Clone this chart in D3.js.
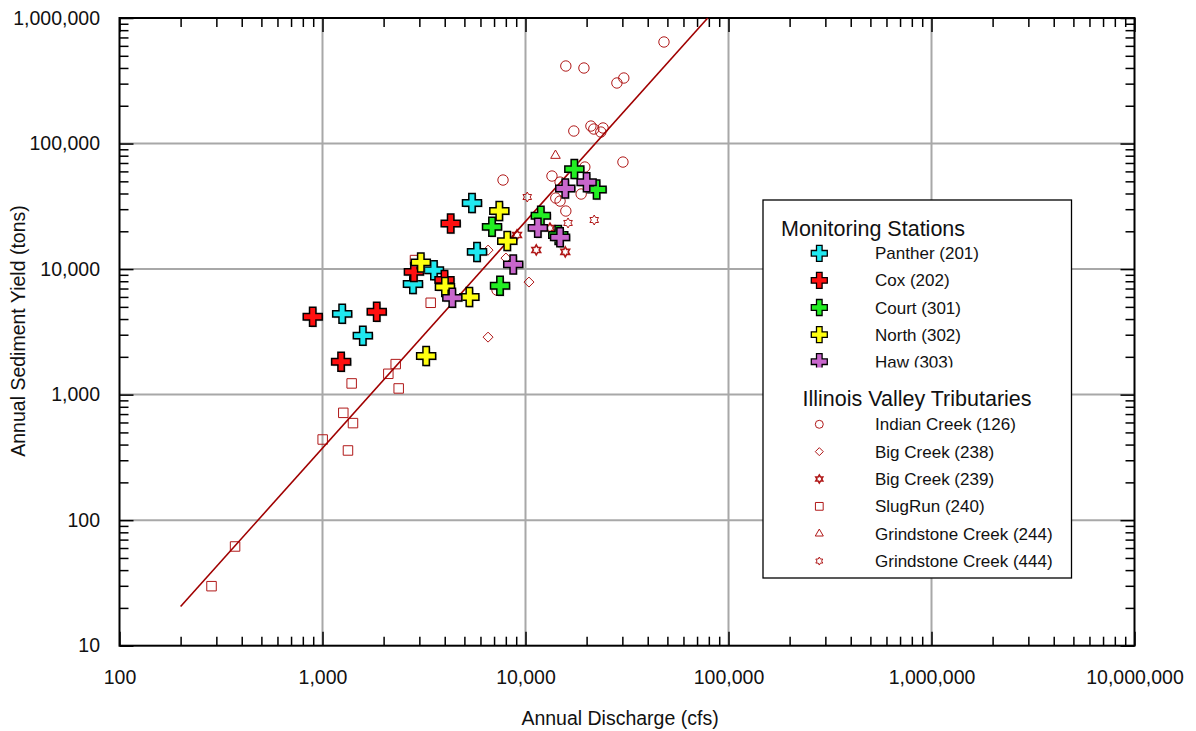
<!DOCTYPE html>
<html>
<head>
<meta charset="utf-8">
<script src="https://cdn.jsdelivr.net/npm/d3@7"></script>
<style>
  body { margin: 0; background: #fff; }
  svg { font-family: "Liberation Sans", Arial, sans-serif; }
</style>
</head>
<body>
<svg id="chart" width="1196" height="731"></svg>
<script>
// monitoring stations: discharge (cfs) and sediment yield (tons)
var pantherQ = [1250, 1580, 2790, 3540, 5450, 5770];
var pantherS = [4400, 2950, 7600, 9800, 33600, 13700];
var coxQ = [895, 1850, 1235, 2820, 4280, 3990];
var coxS = [4170, 4570, 1825, 9500, 23100, 8200];
var courtQ = [17400, 22400, 11900, 6840, 7490, 14500];
var courtS = [62600, 43100, 26600, 21700, 7360, 18700];
var northQ = [3050, 4010, 3240, 5290, 7430, 8130];
var northS = [11300, 7200, 2030, 6000, 29000, 16700];
var hawQ = [4360, 8700, 15700, 20000, 11500, 14800];
var hawS = [5900, 10900, 43900, 49100, 21300, 17900];

// Illinois valley tributaries
var indianQ = [48100, 15800, 19400, 28200, 30500, 17300, 21000, 21700, 24100, 23500,
               30200, 19600, 13500, 14800, 7750, 18800, 14100, 14800, 15800, 7240];
var indianS = [644000, 414600, 399600, 303600, 332600, 125800, 137800, 130500, 133000, 123500,
               71200, 65000, 55100, 49300, 51200, 39600, 36800, 34800, 29000, 6800];
var big238Q = [6540, 8010, 10400, 6540];
var big238S = [14160, 12240, 7880, 2870];
var big239Q = [9080, 13200, 11300, 15700];
var big239S = [18700, 21200, 14200, 13700];
var slugQ = [284, 371, 1002, 1266, 1413, 1335, 1392, 2110, 2294, 2373, 3412, 2855];
var slugS = [29.8, 61.7, 439, 716, 593, 359, 1228, 1465, 1750, 1120, 5390, 11800];
var grind244Q = [14050];
var grind244S = [80200];
var grind444Q = [10200, 16200, 21800];
var grind444S = [37500, 23300, 24600];

// regression line end points
var fitQ = [200, 79000];
var fitS = [20.5, 1000000];

var xTicks = [100, 1000, 10000, 100000, 1000000, 10000000];
var yTicks = [10, 100, 1000, 10000, 100000, 1000000];

var stations = [
    { name: "Panther (201)", color: "#1fe8f0", q: pantherQ, s: pantherS },
    { name: "Cox (202)", color: "#ff1010", q: coxQ, s: coxS },
    { name: "Court (301)", color: "#22ee22", q: courtQ, s: courtS },
    { name: "North (302)", color: "#ffff10", q: northQ, s: northS },
    { name: "Haw (303)", color: "#c866cc", q: hawQ, s: hawS }
];

var markColor = "#b01818";

var svg = d3.select("#chart");
var pLeft = 119.5, pRight = 1134.5, pTop = 18, pBottom = 645.7;

var xScale = d3.scaleLog().domain([100, 1e7]).range([pLeft, pRight]);
var yScale = d3.scaleLog().domain([10, 1e6]).range([pBottom, pTop]);

// grid
var grid = svg.append("g");
grid.selectAll(".gx").data(xTicks.slice(1, -1)).enter().append("line")
    .attr("x1", function(d) { return xScale(d); }).attr("x2", function(d) { return xScale(d); })
    .attr("y1", pTop).attr("y2", pBottom)
    .style("stroke", "#a8a8a8").style("stroke-width", 2);
grid.selectAll(".gy").data(yTicks.slice(1, -1)).enter().append("line")
    .attr("y1", function(d) { return yScale(d); }).attr("y2", function(d) { return yScale(d); })
    .attr("x1", pLeft).attr("x2", pRight)
    .style("stroke", "#a8a8a8").style("stroke-width", 2);

// minor tick values (2..9 of every decade)
function minors(lo, hi) {
    var out = [];
    for (var p = lo; p < hi; p *= 10) {
        for (var k = 2; k <= 9; k++) out.push(p * k);
    }
    return out;
}
var xMinor = minors(100, 1e7);
var yMinor = minors(10, 1e6);

function styleAxis(g) {
    g.select(".domain").remove();
    g.selectAll("line").style("stroke", "#000").style("stroke-width", 1.5);
    g.selectAll("text").style("font-size", "19.5px").style("fill", "#111").style("font-family", "Liberation Sans, Arial, sans-serif");
}

var fmt = d3.format(",");

svg.append("g").attr("transform", "translate(0," + pBottom + ")")
    .call(d3.axisBottom(xScale).tickValues(xMinor).tickSize(-9).tickFormat(""))
    .call(styleAxis);
svg.append("g").attr("transform", "translate(0," + pBottom + ")")
    .call(d3.axisBottom(xScale).tickValues(xTicks).tickSize(-14).tickPadding(24).tickFormat(fmt))
    .call(styleAxis);
svg.append("g").attr("transform", "translate(0," + pTop + ")")
    .call(d3.axisTop(xScale).tickValues(xMinor).tickSize(-9).tickFormat(""))
    .call(styleAxis);
svg.append("g").attr("transform", "translate(0," + pTop + ")")
    .call(d3.axisTop(xScale).tickValues(xTicks).tickSize(-14).tickFormat(""))
    .call(styleAxis);
svg.append("g").attr("transform", "translate(" + pLeft + ",0)")
    .call(d3.axisLeft(yScale).tickValues(yMinor).tickSize(-9).tickFormat(""))
    .call(styleAxis);
svg.append("g").attr("transform", "translate(" + pLeft + ",0)")
    .call(d3.axisLeft(yScale).tickValues(yTicks).tickSize(-14).tickPadding(19.5).tickFormat(fmt))
    .call(styleAxis);
svg.append("g").attr("transform", "translate(" + pRight + ",0)")
    .call(d3.axisRight(yScale).tickValues(yMinor).tickSize(-9).tickFormat(""))
    .call(styleAxis);
svg.append("g").attr("transform", "translate(" + pRight + ",0)")
    .call(d3.axisRight(yScale).tickValues(yTicks).tickSize(-14).tickFormat(""))
    .call(styleAxis);

// frame
svg.append("rect")
    .attr("x", pLeft).attr("y", pTop)
    .attr("width", pRight - pLeft).attr("height", pBottom - pTop)
    .style("fill", "none").style("stroke", "#000").style("stroke-width", 2);

// axis titles
svg.append("text")
    .attr("x", 620).attr("y", 725)
    .attr("text-anchor", "middle")
    .style("font-size", "19.5px").style("fill", "#111")
    .text("Annual Discharge (cfs)");
svg.append("text")
    .attr("transform", "translate(25," + 331 + ") rotate(-90)")
    .attr("text-anchor", "middle")
    .style("font-size", "19.5px").style("fill", "#111")
    .text("Annual Sediment Yield (tons)");

// marker shapes
function hexagram(r) {
    var pts = [];
    for (var i = 0; i < 12; i++) {
        var a = -Math.PI / 2 + i * Math.PI / 6;
        var rr = (i % 2 === 0) ? r : r / Math.sqrt(3);
        pts.push([rr * Math.cos(a), rr * Math.sin(a)]);
    }
    return "M" + pts.map(function(p) { return p[0].toFixed(2) + "," + p[1].toFixed(2); }).join("L") + "Z";
}
function cross(h, t) {
    return "M" + (-t) + "," + (-h) + "H" + t + "V" + (-t) + "H" + h + "V" + t + "H" + t +
        "V" + h + "H" + (-t) + "V" + t + "H" + (-h) + "V" + (-t) + "H" + (-t) + "Z";
}
function diamond(r) {
    return "M0," + (-r) + "L" + r + ",0L0," + r + "L" + (-r) + ",0Z";
}

var tribs = [
    { name: "Indian Creek (126)", q: indianQ, s: indianS, path: d3.symbol().type(d3.symbolCircle).size(85)(), sw: 1 },
    { name: "Big Creek (238)", q: big238Q, s: big238S, path: diamond(5), sw: 1 },
    { name: "Big Creek (239)", q: big239Q, s: big239S, path: hexagram(5), sw: 1.6 },
    { name: "SlugRun (240)", q: slugQ, s: slugS, path: d3.symbol().type(d3.symbolSquare).size(90)(), sw: 1 },
    { name: "Grindstone Creek (244)", q: grind244Q, s: grind244S, path: d3.symbol().type(d3.symbolTriangle).size(40)(), sw: 1 },
    { name: "Grindstone Creek (444)", q: grind444Q, s: grind444S, path: hexagram(5), sw: 1 }
];

var plot = svg.append("g");

tribs.forEach(function(t) {
    plot.append("g").selectAll("path")
        .data(d3.range(t.q.length))
        .enter().append("path")
        .attr("d", t.path)
        .attr("transform", function(i) { return "translate(" + xScale(t.q[i]) + "," + yScale(t.s[i]) + ")"; })
        .style("fill", "none")
        .style("stroke", markColor)
        .style("stroke-width", t.sw);
});

// regression line
plot.append("line")
    .attr("x1", xScale(fitQ[0])).attr("y1", yScale(fitS[0]))
    .attr("x2", xScale(fitQ[1])).attr("y2", yScale(fitS[1]))
    .style("stroke", "#a00000").style("stroke-width", 1.6);

var bigCross = cross(9.5, 3.2);

stations.forEach(function(st) {
    var g = plot.append("g");
    var idx = d3.range(st.q.length);
    g.selectAll(".shadow").data(idx).enter().append("path")
        .attr("d", bigCross)
        .attr("transform", function(i) { return "translate(" + (xScale(st.q[i]) + 1.2) + "," + (yScale(st.s[i]) + 1.2) + ")"; })
        .style("fill", "#999").style("opacity", 0.5);
    g.selectAll(".mark").data(idx).enter().append("path")
        .attr("d", bigCross)
        .attr("transform", function(i) { return "translate(" + xScale(st.q[i]) + "," + yScale(st.s[i]) + ")"; })
        .style("fill", st.color)
        .style("stroke", "#000").style("stroke-width", 1.5);
});

// legend
var legend = svg.append("g");
legend.append("rect")
    .attr("x", 763).attr("y", 200)
    .attr("width", 308.5).attr("height", 378)
    .style("fill", "#fff").style("stroke", "#000").style("stroke-width", 1.3);

legend.append("text")
    .attr("x", 781).attr("y", 235.5)
    .style("font-size", "21.5px").style("fill", "#111")
    .text("Monitoring Stations");

svg.append("clipPath").attr("id", "legclip")
    .append("rect").attr("x", 763).attr("y", 238).attr("width", 308).attr("height", 129.5);

var monG = legend.append("g").attr("clip-path", "url(#legclip)");
var smallCross = cross(8, 2.8);
stations.forEach(function(st, i) {
    var cy = 253.3 + i * 27.1;
    monG.append("path")
        .attr("d", smallCross)
        .attr("transform", "translate(819.3," + cy + ")")
        .style("fill", st.color).style("stroke", "#000").style("stroke-width", 1.3);
    monG.append("text")
        .attr("x", 875).attr("y", cy + 6)
        .style("font-size", "17px").style("fill", "#111")
        .text(st.name);
});

legend.append("text")
    .attr("x", 802.5).attr("y", 405.5)
    .style("font-size", "21.5px").style("fill", "#111")
    .text("Illinois Valley Tributaries");

var legSizes = [
    d3.symbol().type(d3.symbolCircle).size(50)(),
    diamond(4),
    hexagram(4),
    d3.symbol().type(d3.symbolSquare).size(60)(),
    d3.symbol().type(d3.symbolTriangle).size(28)(),
    hexagram(4)
];
tribs.forEach(function(t, i) {
    var cy = 424.3 + i * 27.35;
    legend.append("path")
        .attr("d", legSizes[i])
        .attr("transform", "translate(819.3," + cy + ")")
        .style("fill", "none").style("stroke", markColor).style("stroke-width", t.sw);
    legend.append("text")
        .attr("x", 875).attr("y", cy + 6)
        .style("font-size", "17px").style("fill", "#111")
        .text(t.name);
});
</script>
</body>
</html>
